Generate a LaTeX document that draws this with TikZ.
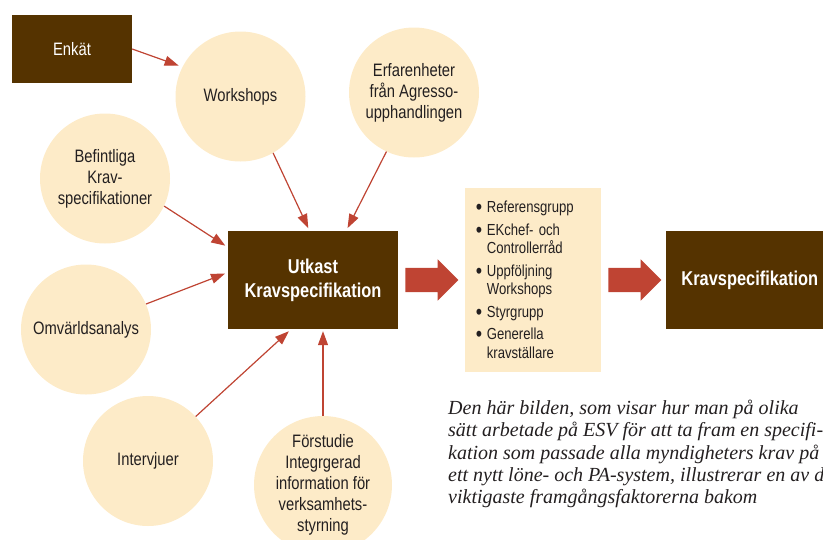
\documentclass[tikz,border=0pt]{standalone}
\usepackage{fontspec}
\setmainfont{Liberation Sans}[FakeStretch=0.82]
\newfontfamily\brodtext{Liberation Serif}
\usepackage{tikz}
\usetikzlibrary{positioning, arrows.meta, shapes.arrows}

\definecolor{brun}{HTML}{553300}
\definecolor{kram}{HTML}{FDEBC8}
\definecolor{tegel}{HTML}{BF4433}
\definecolor{svart}{HTML}{231F20}

\newcommand{\punkt}{\makebox[11pt][l]{\fontsize{22}{18}\selectfont\raisebox{-2pt}{\textbullet}}}

\begin{document}
\begin{tikzpicture}[x=1pt, y=-1pt,
      cirk/.style={circle, fill=kram, minimum size=130pt, inner sep=0pt,
        align=center, text=svart, font=\fontsize{18}{21}\selectfont},
      ruta/.style={fill=brun, text=white, align=center,
        font=\fontsize{20}{24}\selectfont\bfseries},
      pil/.style={draw=tegel, line width=1.2pt, shorten >=3pt,
        -{Triangle[length=14pt, width=10pt]}},
      storpil/.style={single arrow, fill=tegel, minimum height=53pt,
        inner xsep=0pt, inner ysep=12pt, single arrow head extend=8.5pt,
        single arrow tip angle=90, single arrow head indent=0pt}
    ]
    \useasboundingbox (0,0) rectangle (823,539);
    \clip (0,0) rectangle (823,539);
    \node[ruta, minimum width=120pt, minimum height=68pt] (enkat) at (72,49)
      {\fontsize{18}{21}\selectfont\mdseries Enkät};
    \node[cirk] (ws) at (240.5,96.5) {Workshops};
    \node[cirk] (erf) at (414,92.5) {Erfarenheter\\från Agresso-\\upphandlingen};
    \node[cirk] (bef) at (105,178.5) {Befintliga\\Krav-\\specifikationer};
    \node[cirk] (omv) at (86,329.5) {Omvärldsanalys};
    \node[cirk] (intv) at (148,461) {Intervjuer};
    \node[cirk] (forst) at (323,485)
      {Förstudie\\Integrgerad\\information för\\verksamhets-\\styrning};
    \node[ruta, minimum width=170pt, minimum height=98pt] (utkast) at (313,280)
      {Utkast\\Kravspecifikation};
    \node[storpil] (arra) [right=7pt of utkast] {};
    \node[fill=kram, text=svart, minimum width=136pt, minimum height=184pt,
      text width=114pt, align=left, font=\fontsize{16}{18.5}\selectfont]
      (lista) [right=6pt of arra]
      {\punkt Referensgrupp\\[4pt]
       \punkt EKchef- och\\
       \hphantom{\punkt}Controllerråd\\[4pt]
       \punkt Uppföljning\\
       \hphantom{\punkt}Workshops\\[4pt]
       \punkt Styrgrupp\\[4pt]
       \punkt Generella\\
       \hphantom{\punkt}kravställare};
    \node[storpil] (arrb) [right=7pt of lista] {};
    \node[ruta, minimum width=168pt, minimum height=98pt] (krav) [right=4pt of arrb]
      {Kravspecifikation};
    \node[anchor=north west, inner sep=0pt, align=left, text=svart,
      font=\brodtext\itshape\fontsize{20}{22.3}\selectfont] (bildtext) at (448,400)
      {Den här bilden, som visar hur man på olika\\
       sätt arbetade på ESV för att ta fram en specifi-\\
       kation som passade alla myndigheters krav på\\
       ett nytt löne- och PA-system, illustrerar en av de\\
       viktigaste framgångsfaktorerna bakom};
    \draw[pil, shorten >=4pt] (enkat.east) -- (ws.153);
    \draw[pil] (ws.-60) -- (utkast.94);
    \draw[pil] (erf.245) -- (utkast.56);
    \draw[pil] (bef.-25) -- (utkast.159);
    \draw[pil] (omv.23) -- (utkast.175);
    \draw[pil] (intv.43) -- (utkast.246);
    \draw[pil, shorten >=2pt] (forst.north) -- (forst.north |- utkast.south);
\end{tikzpicture}
\end{document}
